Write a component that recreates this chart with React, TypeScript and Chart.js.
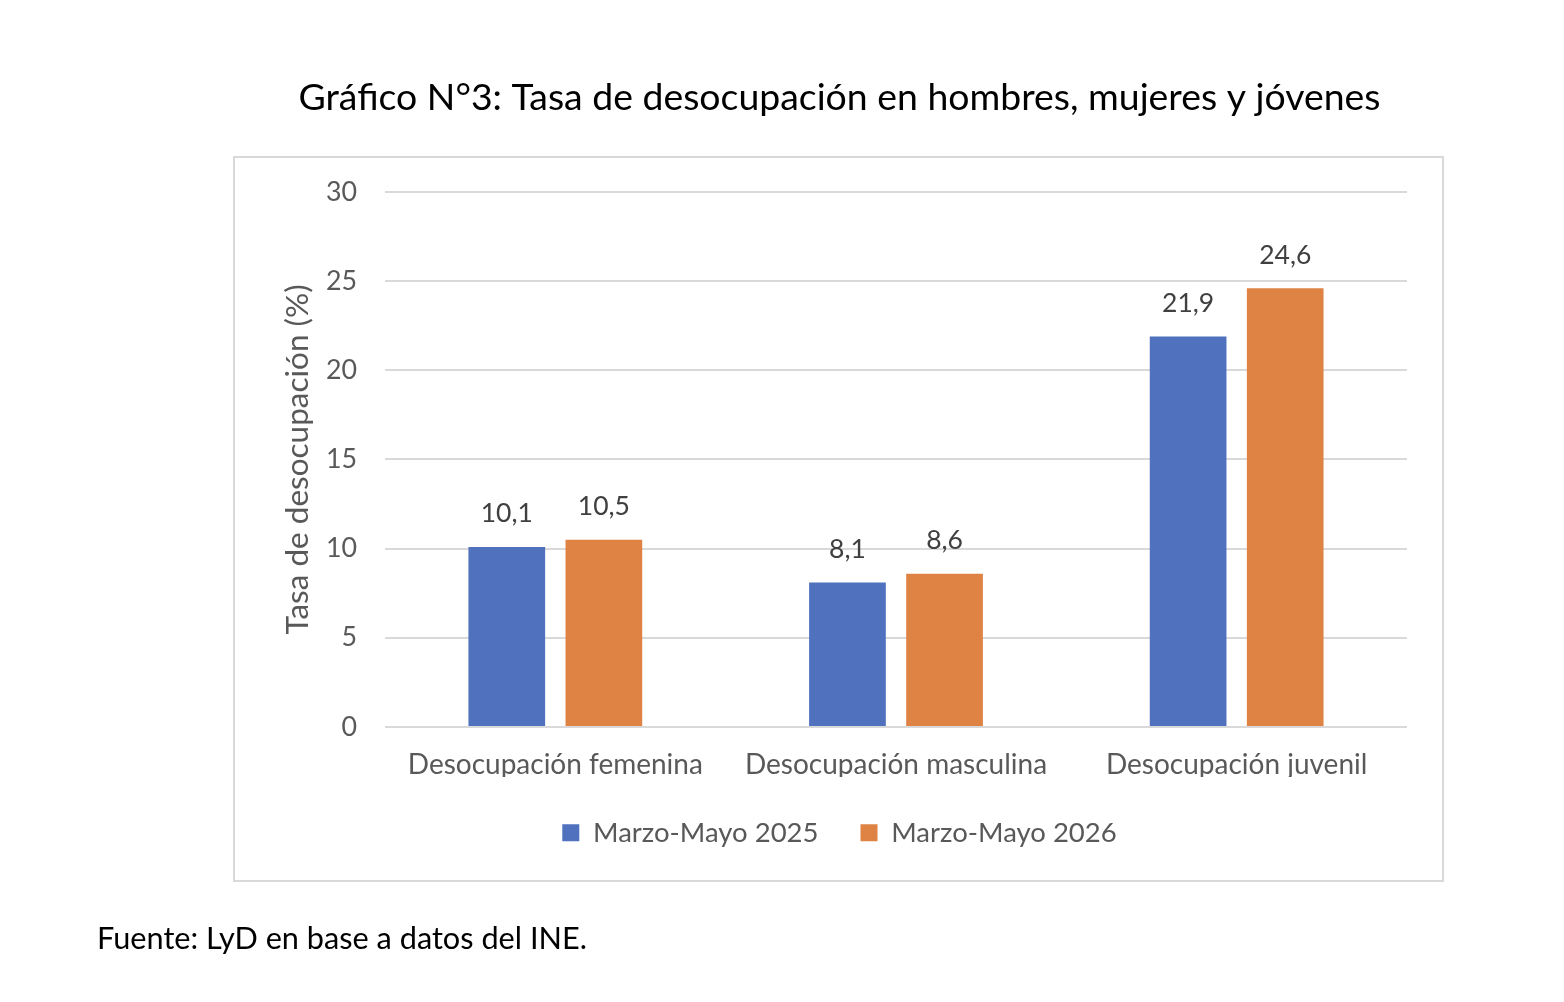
import React, { useEffect, useRef } from "react";
import { Chart, registerables } from "chart.js";

Chart.register(...registerables);

const FONT = "Lato";

const categories = ["Desocupación femenina", "Desocupación masculina", "Desocupación juvenil"];
const seriesNames = ["Marzo-Mayo 2025", "Marzo-Mayo 2026"];
const values2025 = [10.1, 8.1, 21.9];
const values2026 = [10.5, 8.6, 24.6];
const yMin = 0;
const yMax = 30;
const yStep = 5;
const titleText = "Gráfico N°3: Tasa de desocupación en hombres, mujeres y jóvenes";
const yAxisTitle = "Tasa de desocupación (%)";
const sourceText = "Fuente: LyD en base a datos del INE.";

const seriesColors = ["#4F71BE", "#DF8344"];

const valueLabelPlugin = {
  id: "valueLabels",
  afterDatasetsDraw(chart: any) {
    const ctx = chart.ctx;
    ctx.save();
    ctx.font = `26.5px ${FONT}`;
    ctx.fillStyle = "#404040";
    ctx.textAlign = "center";
    ctx.textBaseline = "middle";
    chart.data.datasets.forEach((ds: any, i: number) => {
      const meta = chart.getDatasetMeta(i);
      meta.data.forEach((bar: any, j: number) => {
        const txt = Number(ds.data[j]).toFixed(1).replace(".", ",");
        ctx.fillText(txt, bar.x, bar.y - 33);
      });
    });
    ctx.restore();
  },
};

export default function App() {
  const canvasRef = useRef<HTMLCanvasElement | null>(null);

  useEffect(() => {
    if (!canvasRef.current) return;
    const chart = new Chart(canvasRef.current, {
      type: "bar",
      data: {
        labels: categories,
        datasets: [
          {
            label: seriesNames[0],
            data: values2025,
            backgroundColor: seriesColors[0],
            categoryPercentage: 0.57,
            barPercentage: 0.79,
          },
          {
            label: seriesNames[1],
            data: values2026,
            backgroundColor: seriesColors[1],
            categoryPercentage: 0.57,
            barPercentage: 0.79,
          },
        ],
      },
      options: {
        responsive: false,
        animation: false,
        devicePixelRatio: 1,
        layout: { padding: { left: 234, right: 119, top: 0, bottom: 145.5 } },
        font: { family: FONT },
        plugins: {
          title: {
            display: true,
            text: titleText,
            color: "#000000",
            font: { family: FONT, size: 37.4, weight: "normal" },
            padding: { top: 75, bottom: 72.1 },
          },
          legend: {
            position: "bottom",
            labels: {
              boxWidth: 17,
              boxHeight: 17,
              padding: 42,
              color: "#595959",
              font: { family: FONT, size: 27.5 },
            },
          },
          tooltip: { enabled: false },
        },
        scales: {
          x: {
            grid: { display: false, drawTicks: false },
            border: { display: false },
            ticks: {
              color: "#595959",
              font: { family: FONT, size: 28 },
              padding: 21,
              maxRotation: 0,
            },
            afterFit: (scale: any) => {
              scale.height = 50;
            },
          },
          y: {
            min: yMin,
            max: yMax,
            grid: { color: "#D9D9D9", lineWidth: 2, drawTicks: false },
            border: { display: false },
            ticks: {
              stepSize: yStep,
              color: "#595959",
              font: { family: FONT, size: 26.8 },
              padding: 28,
            },
            title: {
              display: true,
              text: yAxisTitle,
              color: "#595959",
              font: { family: FONT, size: 31.5 },
              padding: { top: 45, bottom: 0 },
            },
            afterFit: (scale: any) => {
              scale.width = 151;
            },
          },
          yRight: {
            position: "right",
            display: true,
            grid: { display: false, drawTicks: false },
            border: { display: false },
            ticks: { display: false },
            afterFit: (scale: any) => {
              scale.width = 38;
            },
          },
        },
      } as any,
      plugins: [valueLabelPlugin],
    });
    return () => chart.destroy();
  }, []);

  return (
    <div style={{ position: "absolute", left: 0, top: 0, width: 1564, height: 1002, background: "#ffffff" }}>
      <div
        style={{
          position: "absolute",
          left: 233,
          top: 156,
          width: 1211,
          height: 726,
          border: "2px solid #D9D9D9",
          boxSizing: "border-box",
        }}
      />
      <canvas
        ref={canvasRef}
        width={1564}
        height={1002}
        style={{ position: "absolute", left: 0, top: 0, width: 1564, height: 1002 }}
      />
      <div
        style={{
          position: "absolute",
          left: 97,
          top: 918,
          fontFamily: FONT,
          fontSize: 30.7,
          color: "#000000",
          whiteSpace: "nowrap",
          lineHeight: "40px",
        }}
      >
        {sourceText}
      </div>
    </div>
  );
}
